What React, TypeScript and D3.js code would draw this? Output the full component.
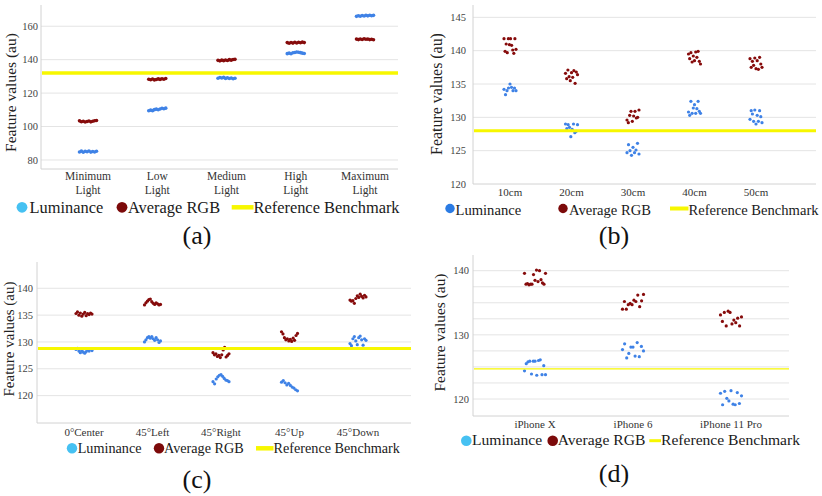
import React from "react";
import * as d3 from "d3";

// ---------- shared text ----------
const legendLabels = ["Luminance", "Average RGB", "Reference Benchmark"];
const axisTitle = "Feature values (au)";
const captions = ["(a)", "(b)", "(c)", "(d)"];

// ---------- panel (a): lighting ----------
const aCategories = ["Minimum Light", "Low Light", "Medium Light", "High Light", "Maximum Light"];
const aTickLabels = [["Minimum", "Light"], ["Low", "Light"], ["Medium", "Light"], ["High", "Light"], ["Maximum", "Light"]];
const aYTicks = [80, 100, 120, 140, 160];
const aLuminance = [
  [84.8, 85.3, 84.6, 85.2, 84.9, 85.4, 84.7, 85.1, 84.8, 85.2],
  [109.4, 109.8, 109.5, 110.1, 110.4, 110.0, 110.5, 110.9, 110.6, 111.0],
  [128.9, 129.3, 129.0, 129.4, 128.8, 129.2, 128.7, 129.0, 128.6, 128.9],
  [143.6, 143.9, 143.5, 144.1, 144.3, 144.6, 144.4, 144.2, 143.9, 143.7],
  [165.9, 166.3, 166.0, 166.4, 166.1, 166.5, 166.2, 166.6, 166.3, 166.5],
];
const aAverageRGB = [
  [103.4, 102.9, 103.2, 102.7, 103.0, 103.3, 102.8, 103.2, 103.5, 103.6],
  [128.3, 128.0, 128.4, 127.9, 128.1, 128.5, 128.2, 128.6, 128.3, 128.7],
  [139.6, 139.3, 139.7, 139.4, 139.8, 139.5, 140.0, 139.7, 140.1, 140.2],
  [150.2, 149.8, 150.3, 149.9, 150.4, 150.0, 150.4, 150.1, 150.5, 150.2],
  [152.3, 152.0, 152.4, 152.1, 152.5, 152.2, 152.3, 152.0, 152.2, 151.9],
];
const aReference = 132;

// ---------- panel (b): distance ----------
const bCategories = ["10cm", "20cm", "30cm", "40cm", "50cm"];
const bYTicks = [120, 125, 130, 135, 140, 145];
const bLuminance = [
  [134.2, 133.4, 134.0, 134.4, 135.0, 134.5, 134.0, 134.4, 134.0],
  [129.0, 128.3, 128.9, 128.5, 127.1, 128.2, 129.0, 127.7, 127.9, 128.9],
  [124.7, 125.9, 125.0, 124.3, 125.5, 124.7, 125.1, 126.1, 124.5],
  [130.8, 130.3, 132.4, 130.6, 131.4, 131.9, 130.6, 131.3, 132.4, 130.9, 130.6],
  [129.7, 131.0, 130.5, 129.4, 131.1, 129.0, 130.3, 129.4, 131.0, 130.1, 129.2],
];
const bAverageRGB = [
  [141.8, 139.9, 141.0, 139.7, 141.8, 140.9, 141.8, 140.8, 140.1, 139.6, 141.8, 140.2],
  [136.6, 135.8, 137.1, 136.1, 135.5, 136.7, 136.0, 137.0, 135.1, 136.8, 136.4],
  [129.6, 129.2, 130.3, 130.9, 129.4, 130.2, 130.9, 129.9, 130.0, 131.1],
  [139.5, 138.8, 139.7, 138.3, 139.2, 138.5, 139.8, 139.0, 139.9, 138.4, 138.0],
  [138.8, 137.5, 138.4, 137.8, 138.9, 137.3, 138.5, 137.2, 139.0, 138.0, 137.5],
];
const bReference = 128;

// ---------- panel (c): angle ----------
const cCategories = ["0°Center", "45°Left", "45°Right", "45°Up", "45°Down"];
const cYTicks = [120, 125, 130, 135, 140];
const cLuminance = [
  [128.6, 128.8, 128.3, 128.0, 128.4, 128.1, 127.9, 128.2, 128.5, 128.3, 128.7, 128.4],
  [130.0, 130.4, 130.8, 131.0, 130.7, 131.0, 130.6, 130.3, 130.8, 130.4, 129.9, 130.2],
  [122.6, 122.2, 123.1, 123.5, 123.8, 123.9, 123.6, 123.2, 122.9, 122.8, 122.6],
  [122.5, 122.8, 122.4, 122.0, 122.3, 121.9, 121.6, 121.4, 121.1, 120.9],
  [129.7, 129.3, 130.6, 131.0, 130.2, 129.5, 130.8, 131.1, 130.4, 129.4, 130.6, 130.3],
];
const cAverageRGB = [
  [135.3, 135.6, 135.0, 135.4, 134.8, 135.2, 135.5, 134.9, 135.3, 135.1, 135.4, 135.2],
  [136.9, 137.3, 137.6, 137.9, 138.0, 137.5, 137.2, 137.0, 137.3, 137.1, 136.9, 137.0],
  [128.0, 127.6, 127.8, 127.3, 127.5, 127.1, 127.6, 128.5, 129.0, 127.2, 127.5, 127.8],
  [131.9, 131.5, 130.8, 130.4, 130.6, 130.2, 130.5, 130.1, 130.7, 130.3, 131.2, 131.6],
  [137.8, 137.6, 137.7, 137.2, 138.1, 138.6, 138.3, 138.9, 138.5, 138.2, 138.7, 138.4],
];
const cReference = 128.8;

// ---------- panel (d): device ----------
const dCategories = ["iPhone X", "iPhone 6", "iPhone 11 Pro"];
const dYTicks = [120, 130, 140];
const dGridTicks = [120, 122.5, 125, 127.5, 130, 132.5, 135, 137.5, 140];
const dLuminance = [
  [124.4, 125.5, 125.8, 125.9, 123.9, 125.9, 125.9, 123.7, 126.0, 126.1, 123.8, 125.2, 123.8],
  [127.7, 128.6, 126.4, 127.1, 128.1, 128.1, 126.7, 128.8, 126.6, 128.2, 127.5],
  [120.9, 119.1, 121.2, 120.1, 119.7, 121.3, 119.2, 119.1, 121.0, 119.3, 120.5],
];
const dAverageRGB = [
  [139.6, 137.9, 138.0, 137.8, 137.9, 137.9, 139.4, 138.5, 140.1, 138.3, 140.0, 138.6, 138.1, 137.9, 139.6],
  [134.0, 135.2, 134.0, 134.7, 134.9, 134.7, 135.4, 135.2, 136.2, 134.4, 135.3, 136.3],
  [133.1, 132.1, 133.5, 131.4, 133.7, 133.5, 131.7, 132.3, 131.9, 132.6, 131.4, 132.8],
];
const dReference = 124.7;

// ---------- styles ----------
const FONT = "'Liberation Serif', 'Times New Roman', Times, serif";
const LUM_DOT = "#3f82e6";
const RGB_DOT = "#860b0b";
const LUM_LEG_LIGHT = "#46c1f2";
const LUM_LEG_BLUE = "#2b7be3";
const RGB_LEG = "#7c0a0a";
const YELLOW = "#f7f700";
const GRID = "#e4e4e4";
const AXIS = "#d2d2d2";

type Panel = {
  categories: string[];
  tickLabels: string[][];
  yTicks: number[];
  grid: number[];
  lum: number[][];
  rgb: number[][];
  ref: number;
  caption: string;
  left: number; right: number; top: number; bottom: number;
  domain: [number, number];
  xRange: [number, number];
  clusterW: number;
  dotR: number;
  tickX: number; tickFont: number;
  catBaselines: number[]; catFont: number;
  refW: number;
  titleX: number; titleCy: number; titleFont: number;
  leg: { base: number; cy: number; font: number; lumCx: number; lumTx: number; rgbCx: number; rgbTx: number; l1: number; l2: number; refTx: number; r: number; lw: number; lumColor: string };
  cap: { x: number; base: number; font: number };
};

const panels: Panel[] = [
  {
    categories: aCategories, tickLabels: aTickLabels, yTicks: aYTicks, grid: aYTicks,
    lum: aLuminance, rgb: aAverageRGB, ref: aReference, caption: captions[0],
    left: 41, right: 398, top: 5, bottom: 169, domain: [74.6, 172.7], xRange: [88, 365],
    clusterW: 17, dotR: 1.8, tickX: 38, tickFont: 10.5, catBaselines: [180, 193.5], catFont: 11.5, refW: 3.5,
    titleX: 15.5, titleCy: 92.5, titleFont: 15.5,
    leg: { base: 212.5, cy: 207.3, font: 16.4, lumCx: 22, lumTx: 29.5, rgbCx: 122, rgbTx: 128, l1: 231.7, l2: 253.5, refTx: 253.5, r: 5.4, lw: 4.5, lumColor: LUM_LEG_LIGHT },
    cap: { x: 197, base: 244, font: 26 },
  },
  {
    categories: bCategories, tickLabels: bCategories.map((c) => [c]), yTicks: bYTicks, grid: bYTicks.slice(1),
    lum: bLuminance, rgb: bAverageRGB, ref: bReference, caption: captions[1],
    left: 473, right: 816, top: 5, bottom: 184, domain: [120, 146.85], xRange: [510, 756],
    clusterW: 12, dotR: 1.6, tickX: 466, tickFont: 10.5, catBaselines: [196], catFont: 11, refW: 3,
    titleX: 442, titleCy: 94, titleFont: 15.9,
    leg: { base: 214.5, cy: 208.5, font: 14.6, lumCx: 450, lumTx: 455.5, rgbCx: 563, rgbTx: 569, l1: 670, l2: 688.5, refTx: 688.5, r: 4.7, lw: 4, lumColor: LUM_LEG_BLUE },
    cap: { x: 614, base: 244, font: 26 },
  },
  {
    categories: cCategories, tickLabels: cCategories.map((c) => [c]), yTicks: cYTicks, grid: cYTicks,
    lum: cLuminance, rgb: cAverageRGB, ref: cReference, caption: captions[2],
    left: 37, right: 411, top: 262, bottom: 423, domain: [114.9, 144.9], xRange: [84, 358],
    clusterW: 16, dotR: 1.6, tickX: 33, tickFont: 10.5, catBaselines: [435.5], catFont: 11, refW: 3,
    titleX: 14, titleCy: 339, titleFont: 15,
    leg: { base: 453, cy: 448.3, font: 14.2, lumCx: 72, lumTx: 77.7, rgbCx: 159, rgbTx: 164, l1: 256, l2: 273.5, refTx: 273.5, r: 5.2, lw: 4.5, lumColor: LUM_LEG_LIGHT },
    cap: { x: 197, base: 488, font: 26 },
  },
  {
    categories: dCategories, tickLabels: dCategories.map((c) => [c]), yTicks: dYTicks, grid: dGridTicks,
    lum: dLuminance, rgb: dAverageRGB, ref: dReference, caption: captions[3],
    left: 473, right: 789, top: 255, bottom: 416, domain: [117.35, 142.45], xRange: [535, 731],
    clusterW: 21, dotR: 1.6, tickX: 469, tickFont: 10.5, catBaselines: [428], catFont: 11, refW: 1.4,
    titleX: 445, titleCy: 332.5, titleFont: 15.4,
    leg: { base: 444.5, cy: 440.7, font: 15.6, lumCx: 466.3, lumTx: 472, rgbCx: 552.7, rgbTx: 557.7, l1: 649.3, l2: 661, refTx: 661, r: 5.3, lw: 3, lumColor: LUM_LEG_LIGHT },
    cap: { x: 614, base: 482, font: 26 },
  },
];

const txt = (size: number): React.CSSProperties => ({ fontFamily: FONT, fontSize: `${size}px` });

function StripPanel({ p }: { p: Panel }) {
  const y = d3.scaleLinear().domain(p.domain).range([p.bottom, p.top]);
  const x = d3.scalePoint<string>().domain(p.categories).range(p.xRange);
  const jx = (cat: string, i: number, n: number) =>
    (x(cat) as number) + (n > 1 ? (i / (n - 1) - 0.5) * p.clusterW : 0);

  const series = [
    { vals: p.lum, color: LUM_DOT },
    { vals: p.rgb, color: RGB_DOT },
  ];

  return (
    <g>
      {p.grid.map((t) => (
        <line key={"g" + t} x1={p.left} x2={p.right} y1={y(t)} y2={y(t)} stroke={GRID} strokeWidth={1} />
      ))}
      <line x1={p.left} x2={p.left} y1={p.top} y2={p.bottom} stroke={AXIS} strokeWidth={1} />
      <line x1={p.left} x2={p.right} y1={p.bottom} y2={p.bottom} stroke={AXIS} strokeWidth={1} />
      {p.yTicks.map((t) => (
        <text key={"t" + t} x={p.tickX} y={y(t)} dy="0.35em" textAnchor="end" style={txt(p.tickFont)} fill="#444">
          {t}
        </text>
      ))}
      {p.categories.map((c, i) => (
        <text key={"c" + c} textAnchor="middle" style={txt(p.catFont)} fill="#333">
          {p.tickLabels[i].map((line, k) => (
            <tspan key={k} x={x(c) as number} y={p.catBaselines[k]}>
              {line}
            </tspan>
          ))}
        </text>
      ))}
      {series.map((s, si) =>
        s.vals.map((arr, ci) =>
          arr.map((v, i) => (
            <circle
              key={`p${si}-${ci}-${i}`}
              cx={jx(p.categories[ci], i, arr.length)}
              cy={y(v)}
              r={p.dotR}
              fill={s.color}
            />
          ))
        )
      )}
      <line x1={p.left + 1} x2={p.right} y1={y(p.ref)} y2={y(p.ref)} stroke={YELLOW} strokeWidth={p.refW} />
      <text
        transform={`translate(${p.titleX},${p.titleCy}) rotate(-90)`}
        textAnchor="middle"
        style={txt(p.titleFont)}
        fill="#222"
      >
        {axisTitle}
      </text>
      <circle cx={p.leg.lumCx} cy={p.leg.cy} r={p.leg.r} fill={p.leg.lumColor} />
      <text x={p.leg.lumTx} y={p.leg.base} style={txt(p.leg.font)} fill="#1a1a1a">
        {legendLabels[0]}
      </text>
      <circle cx={p.leg.rgbCx} cy={p.leg.cy} r={p.leg.r} fill={RGB_LEG} />
      <text x={p.leg.rgbTx} y={p.leg.base} style={txt(p.leg.font)} fill="#1a1a1a">
        {legendLabels[1]}
      </text>
      <line x1={p.leg.l1} x2={p.leg.l2} y1={p.leg.cy} y2={p.leg.cy} stroke={YELLOW} strokeWidth={p.leg.lw} />
      <text x={p.leg.refTx} y={p.leg.base} style={txt(p.leg.font)} fill="#1a1a1a">
        {legendLabels[2]}
      </text>
      <text x={p.cap.x} y={p.cap.base} textAnchor="middle" style={txt(p.cap.font)} fill="#111">
        {p.caption}
      </text>
    </g>
  );
}

export default function App() {
  return (
    <svg
      width={822}
      height={496}
      viewBox="0 0 822 496"
      style={{ position: "absolute", left: 0, top: 0, background: "#fff" }}
    >
      <rect width={822} height={496} fill="#fff" />
      {panels.map((p, i) => (
        <StripPanel key={i} p={p} />
      ))}
    </svg>
  );
}
